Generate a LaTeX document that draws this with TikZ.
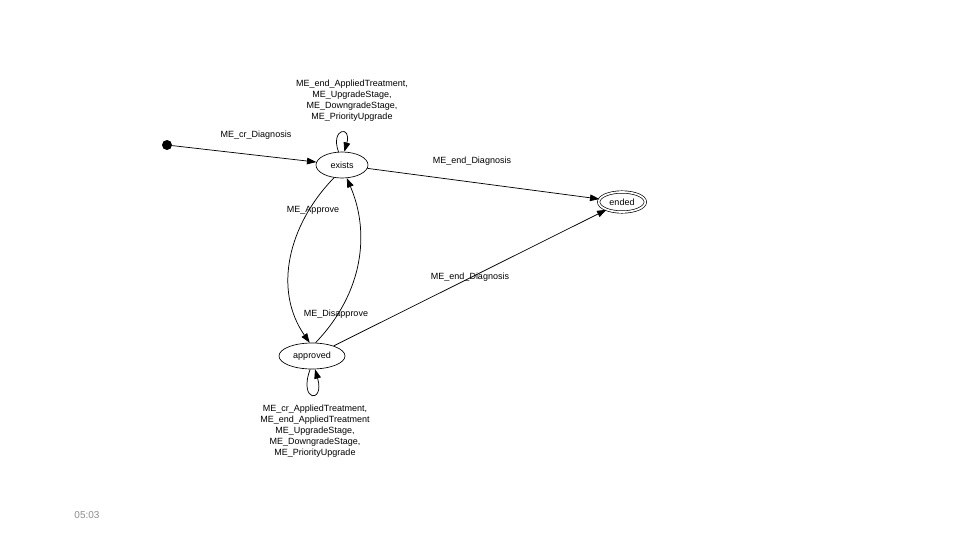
\documentclass[tikz,border=0pt]{standalone}
\usepackage{fontspec}
\setmainfont{Liberation Sans}
\usetikzlibrary{shapes.geometric,arrows.meta}
\begin{document}
\begin{tikzpicture}[x=0.75pt,y=-0.75pt,
  state/.style={draw,ellipse,line width=0.5pt,inner sep=0pt,font=\fontsize{6.75}{8.25}\selectfont},
  arr/.style={line width=0.55pt,-{Triangle[length=7pt,width=5pt]}},
  lbl/.style={font=\fontsize{6.75}{8.25}\selectfont,inner sep=0pt,align=center}]
\useasboundingbox (0,0) rectangle (960,540);
\node[circle,fill=black,inner sep=0pt,minimum size=7.5pt] (init) at (167,145) {};
\node[state,minimum width=39pt,minimum height=19.5pt] (exists) at (342,165) {exists};
\node[state,minimum width=35pt,minimum height=15pt,double,double distance=1.3pt] (ended) at (622,202) {ended};
\node[state,minimum width=49.5pt,minimum height=19.5pt] (approved) at (312,356) {approved};

\draw[arr] (init) -- (exists);
\draw[arr] (exists) -- (ended);
\draw[arr] (approved.25) -- (ended);
\draw[arr] (exists.105) .. controls (330,128) and (352,125) .. (exists.80);
\draw[arr] (approved.262) .. controls (298,402) and (325,404) .. (approved.283);
\draw[arr] (exists.238) .. controls (288,225) and (273,290) .. (approved.100);
\draw[arr] (approved.75) .. controls (364,292) and (370,232) .. (exists.290);

\node[lbl] (l1) at (256,135) {ME\_cr\_Diagnosis};
\node[lbl] (l2) at (472,161) {ME\_end\_Diagnosis};
\node[lbl] (l3) at (313,210) {ME\_Approve};
\node[lbl] (l4) at (336,314) {ME\_Disapprove};
\node[lbl] (l5) at (470,277) {ME\_end\_Diagnosis};
\node[lbl] (l6) at (352,101) {ME\_end\_AppliedTreatment,\\ME\_UpgradeStage,\\ME\_DowngradeStage,\\ME\_PriorityUpgrade};
\node[lbl] (l7) at (315,431) {ME\_cr\_AppliedTreatment,\\ME\_end\_AppliedTreatment\\ME\_UpgradeStage,\\ME\_DowngradeStage,\\ME\_PriorityUpgrade};
\node[font=\fontsize{7.5}{9}\selectfont,text=black!45,inner sep=0pt] (time) at (87,515) {05:03};
\end{tikzpicture}
\end{document}
